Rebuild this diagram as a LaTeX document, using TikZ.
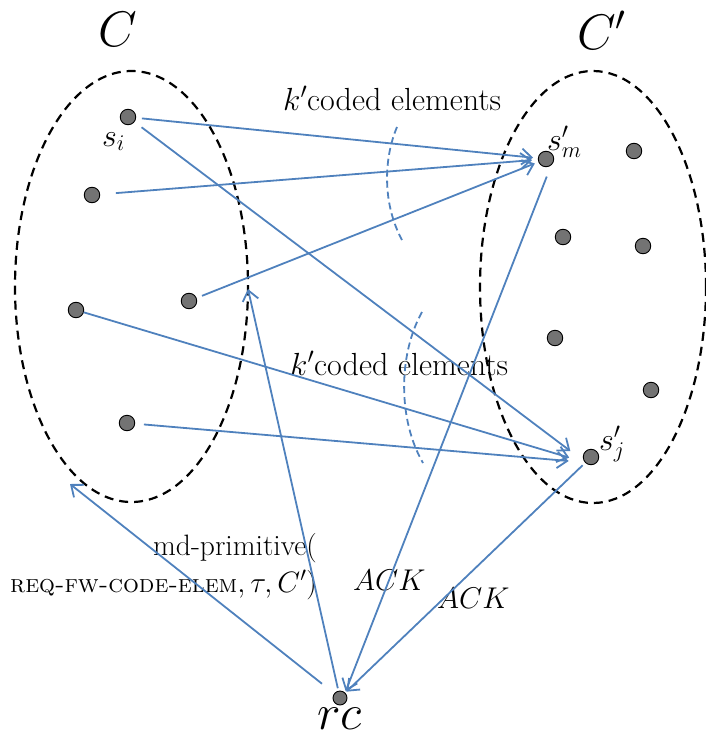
\RequirePackage{fix-cm}
\documentclass[tikz,border=0pt]{standalone}
\usetikzlibrary{arrows.meta}
\definecolor{lblue}{RGB}{79,129,189}
\definecolor{dotgray}{RGB}{115,115,115}
\begin{document}
\begin{tikzpicture}[x=1pt,y=-1pt,
  dot/.style={circle,draw=black,line width=0.9pt,fill=dotgray,minimum size=15.5pt,inner sep=0pt,outer sep=0pt},
  grp/.style={draw=black,dash pattern=on 9pt off 6pt,line width=2.2pt},
  msg/.style={draw=lblue,line width=1.8pt,-{Straight Barb[length=10pt,width=16pt]}},
  arcd/.style={draw=lblue,line width=1.8pt,dash pattern=on 7pt off 4pt},
  lab/.style={anchor=base west,inner sep=0pt}]
\useasboundingbox (0,0) rectangle (706,736);
% groups
\draw[grp] (131.5,286.5) ellipse [x radius=116.5, y radius=215.5];
\draw[grp] (593,287) ellipse [x radius=113, y radius=216];
% nodes of C
\node[dot] (si) at (128,117) {};
\node[dot] (a2) at (92,195) {};
\node[dot] (a3) at (189,301) {};
\node[dot] (a4) at (76,310) {};
\node[dot] (a5) at (127,423) {};
% nodes of C'
\node[dot] (sm) at (546,159) {};
\node[dot] (b2) at (634,151) {};
\node[dot] (b3) at (563,237) {};
\node[dot] (b4) at (643,246) {};
\node[dot] (b5) at (555,338) {};
\node[dot] (b6) at (651,390) {};
\node[dot] (sj) at (591,457) {};
% rc
\node[dot,minimum size=14pt] (rc) at (340,698) {};
\coordinate (u1) at (248,289);
\coordinate (u2) at (70,484);
% labels
\node[lab,font=\fontsize{50}{60}\selectfont] (lC) at (98,46) {$C$};
\node[lab,font=\fontsize{50}{60}\selectfont] (lCp) at (577,49) {$C'$};
\node[lab,font=\fontsize{32}{38}\selectfont] (lsi) at (102,146) {$s_i$};
\node[lab,font=\fontsize{32}{38}\selectfont] (lsm) at (547,150) {$s'_m$};
\node[lab,font=\fontsize{32}{38}\selectfont] (lsj) at (599,450) {$s'_j$};
\node[lab,font=\fontsize{32}{38}\selectfont] (k1) at (283,110) {$k'$coded elements};
\node[lab,font=\fontsize{32}{38}\selectfont] (k2) at (290,375) {$k'$coded elements};
\node[lab,font=\fontsize{29.5}{35}\selectfont] (md1) at (153,555) {md-primitive(};
\node[lab,font=\fontsize{29.5}{35}\selectfont] (md2) at (10,592) {{\fontsize{25}{30}\selectfont\textsc{req-fw-code-elem}}$,\tau,C')$};
\node[lab,font=\fontsize{30}{36}\selectfont] (ack1) at (353,590) {$ACK$};
\node[lab,font=\fontsize{30}{36}\selectfont] (ack2) at (437,608) {$ACK$};
\node[lab,font=\fontsize{50}{60}\selectfont] (lrc) at (317,729) {$rc$};
% dashed arcs
\draw[arcd] (397,127) .. controls (383,160) and (383,205) .. (402,240);
\draw[arcd] (422,312) .. controls (398,355) and (398,420) .. (423,463);
% messages to s'_m
\draw[msg,shorten <=14pt,shorten >=13pt] (si.center) -- (sm.center);
\draw[msg,shorten <=24pt,shorten >=14pt] (a2.center) -- (sm.center);
\draw[msg,shorten <=14pt,shorten >=12pt] (a3.center) -- (sm.center);
% messages to s'_j
\draw[msg,shorten <=17pt,shorten >=19pt] (si.center) -- (sj.south west);
\draw[msg,shorten <=8pt,shorten >=17pt] (a4.center) -- (sj.south west);
\draw[msg,shorten <=17pt,shorten >=17pt] (a5.center) -- (sj.south west);
% from rc
\draw[msg,shorten <=10pt] (rc.center) -- (u1);
\draw[msg,shorten <=23pt] (rc.center) -- (u2);
% ACKs
\draw[msg,shorten <=13pt,shorten >=2pt] (sm.south east) -- (rc.north east);
\draw[msg,shorten <=4pt,shorten >=2pt] (sj.south west) -- (rc.north east);
\end{tikzpicture}
\end{document}
